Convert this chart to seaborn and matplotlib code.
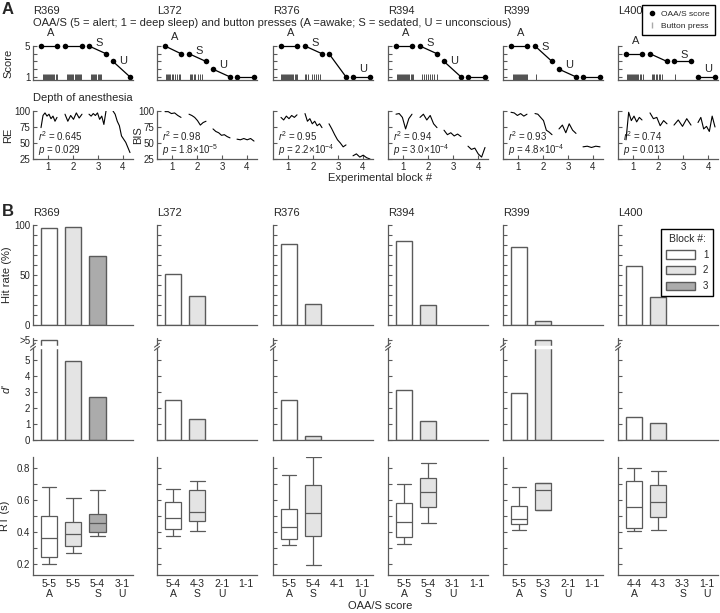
# OAA/S, button presses, depth of anesthesia and task performance per subject
import numpy as np
import pandas as pd
import seaborn as sns
import matplotlib.pyplot as plt
from matplotlib.lines import Line2D
from matplotlib.patches import Patch

# ------------------------------------------
# data
# ------------------------------------------
subjects = ['R369', 'L372', 'R376', 'R394', 'R399', 'L400']
blocks = ['1', '2', '3', '4']

# OAA/S score at start / end of each experimental block
oaas_start = {'R369': [5, 5, 5, 3], 'L372': [5, 4, 2, 1], 'R376': [5, 5, 4, 1],
              'R394': [5, 5, 3, 1], 'R399': [5, 5, 2, 1], 'L400': [4, 4, 3, 1]}
oaas_end = {'R369': [5, 5, 4, 1], 'L372': [4, 3, 1, 1], 'R376': [5, 4, 1, 1],
            'R394': [5, 4, 1, 1], 'R399': [5, 3, 1, 1], 'L400': [4, 3, 3, 1]}
states = {'R369': ['A', '', 'S', 'U'], 'L372': ['A', 'S', 'U', ''],
          'R376': ['A', 'S', '', 'U'], 'R394': ['A', 'S', 'U', ''],
          'R399': ['A', 'S', 'U', ''], 'L400': ['A', '', 'S', 'U']}
block_start = [0.72, 1.68, 2.64, 3.60]
block_end = [1.36, 2.36, 3.32, 4.28]

# button press times (in block units)
presses = {
    'R369': [0.80, 0.84, 0.88, 0.93, 0.97, 1.01, 1.05, 1.09, 1.13, 1.17, 1.21, 1.25, 1.30, 1.34,
             1.76, 1.80, 1.84, 1.89, 1.93, 1.97, 2.01, 2.06, 2.10, 2.14, 2.18, 2.23, 2.27, 2.31,
             2.72, 2.76, 2.80, 2.85, 2.89, 2.93, 2.98, 3.02, 3.08, 3.13],
    'L372': [0.76, 0.80, 0.84, 0.88, 0.93, 0.98, 1.02, 1.10, 1.18, 1.26, 1.32,
             1.73, 1.77, 1.81, 1.86, 1.90, 2.02, 2.12, 2.18],
    'R376': [0.73, 0.77, 0.81, 0.85, 0.89, 0.93, 0.97, 1.01, 1.05, 1.09, 1.13, 1.17, 1.21, 1.26,
             1.30, 1.34, 1.69, 1.73, 1.78, 1.96, 2.04, 2.12, 2.20, 2.27],
    'R394': [0.77, 0.81, 0.85, 0.89, 0.93, 0.97, 1.01, 1.05, 1.09, 1.13, 1.17, 1.21, 1.25, 1.30,
             1.35, 1.39, 1.76, 1.84, 1.92, 2.00, 2.08, 2.16, 2.24, 2.34],
    'R399': [0.79, 0.83, 0.87, 0.91, 0.95, 0.99, 1.03, 1.07, 1.11, 1.15, 1.19, 1.23, 1.27, 1.31,
             1.35, 1.71],
    'L400': [0.76, 0.80, 0.84, 0.88, 0.92, 0.96, 1.00, 1.04, 1.08, 1.12, 1.16, 1.20, 1.26, 1.32,
             1.38, 1.76, 1.80, 1.84, 1.90, 1.96, 2.02, 2.08, 2.14, 2.68],
}

# depth of anesthesia traces, one list per block
depth_label = {'R369': 'RE', 'L372': 'BIS'}
depth = {
    'R369': [[74, 93, 97, 92, 95, 88, 92, 84, 90], [95, 84, 93, 87, 97, 89, 95],
             [95, 92, 96, 93, 97, 87, 92, 79, 100], [100, 95, 84, 77, 61, 56, 51, 43, 35]],
    'L372': [[99, 99, 96, 97, 93, 90], [95, 93, 90, 85, 78, 82, 84],
             [72, 68, 66, 62, 63, 60, 58], [56, 55, 57, 55, 57, 53]],
    'R376': [[90, 86, 92, 88, 93, 90, 94], [96, 84, 88, 80, 84, 77, 80, 74],
             [80, 72, 63, 55, 50, 44, 47], [30, 33, 28, 31, 27, 25]],
    'R394': [[95, 96, 90, 72, 88, 95], [90, 95, 86, 93, 80, 74],
             [70, 63, 66, 61, 64, 60], [45, 40, 42, 33, 28, 43]],
    'R399': [[98, 97, 93, 96, 92, 95], [96, 95, 90, 85, 70, 67, 63],
             [72, 78, 66, 80, 70, 65], [44, 45, 43, 45, 44]],
    'L400': [[55, 98, 85, 92, 83, 90, 86], [97, 88, 90, 77, 85, 80],
             [78, 86, 76, 88, 78], [82, 90, 72, 76, 68, 92, 75]],
}
depth_r2 = ['0.645', '0.98', '0.95', '0.94', '0.93', '0.74']
depth_p = ['0.029', '1.8×10$^{-5}$', '2.2×10$^{-4}$', '3.0×10$^{-4}$', '4.8×10$^{-4}$', '0.013']

# panel B
hit_rate = {'R369': [97, 98, 69], 'L372': [51, 29], 'R376': [81, 21],
            'R394': [84, 20], 'R399': [78, 4], 'L400': [59, 28]}
d_prime = {'R369': [np.inf, 4.9, 2.7], 'L372': [2.5, 1.3], 'R376': [2.5, 0.25],
           'R394': [3.1, 1.2], 'R399': [2.9, np.inf], 'L400': [1.45, 1.05]}
# reaction time boxes: [low whisker, q1, median, q3, high whisker]
rt_box = {
    'R369': [[0.20, 0.24, 0.36, 0.50, 0.68], [0.27, 0.31, 0.39, 0.46, 0.61], [0.375, 0.40, 0.455, 0.51, 0.66]],
    'L372': [[0.375, 0.42, 0.49, 0.585, 0.67], [0.405, 0.47, 0.525, 0.66, 0.72]],
    'R376': [[0.32, 0.355, 0.43, 0.545, 0.76], [0.19, 0.375, 0.52, 0.695, 0.87]],
    'R394': [[0.325, 0.37, 0.46, 0.58, 0.70], [0.455, 0.555, 0.65, 0.74, 0.83]],
    'R399': [[0.41, 0.45, 0.48, 0.56, 0.68], [0.54, 0.54, 0.66, 0.71, 0.71]],
    'L400': [[0.405, 0.425, 0.555, 0.72, 0.80], [0.41, 0.495, 0.59, 0.695, 0.78]],
}

block_colors = {'1': 'white', '2': '#e4e4e4', '3': '#ababab'}
D_OVER = 6.25   # where ">5" sits on the d' axis

# ------------------------------------------
# layout (pixels)
# ------------------------------------------
W, H = 720, 613
col_left = [33, 157, 273, 388, 503, 618]
col_w = 100
GREY = '#5a5a5a'

sns.set_style('ticks')
plt.rcParams['font.family'] = ['Liberation Sans', 'DejaVu Sans']
plt.rcParams['mathtext.fontset'] = 'custom'
plt.rcParams['mathtext.rm'] = 'Liberation Sans'
plt.rcParams['mathtext.it'] = 'Liberation Sans:italic'

fig = plt.figure(figsize=(W / 100, H / 100), dpi=100)


def add_ax(left, top, width, height):
    return fig.add_axes([left / W, 1 - (top + height) / H, width / W, height / H])


def style_ax(ax):
    sns.despine(ax=ax)
    for side in ['left', 'bottom']:
        ax.spines[side].set_color(GREY)
        ax.spines[side].set_linewidth(0.9)
    ax.tick_params(which='both', direction='in', length=3, width=0.8, color=GREY,
                   labelsize=7, pad=2)
    ax.set_xlabel('')
    ax.set_ylabel('')


def fig_text(x, y, s, **kw):
    fig.text(x / W, 1 - y / H, s, va='center', **kw)


# ------------------------------------------
# panel A: OAA/S score and button presses
# ------------------------------------------
label_dy = {'A': 9.5, 'S': 5, 'U': 6}
for i, s in enumerate(subjects):
    ax = add_ax(col_left[i], 46, col_w, 34)
    df = pd.DataFrame({'x': block_start + block_end,
                       'score': oaas_start[s] + oaas_end[s],
                       'block': blocks + blocks})
    sns.lineplot(data=df, x='x', y='score', units='block', estimator=None, sort=True,
                 color='k', marker='o', markersize=4, markeredgewidth=0, lw=0.9,
                 clip_on=False, ax=ax)
    ax.plot(presses[s], [0.95] * len(presses[s]), ls='none', marker='|', ms=4.5,
            mew=0.6, color='#333333', clip_on=False)
    for b, lab in enumerate(states[s]):
        if lab:
            xm = (block_start[b] + block_end[b]) / 2
            ym = (oaas_start[s][b] + oaas_end[s][b]) / 2
            ax.annotate(lab, (xm, ym), xytext=(1.5, label_dy[lab]), textcoords='offset points',
                        ha='center', va='center', fontsize=8, annotation_clip=False)
    style_ax(ax)
    ax.set_xlim(0.4, 4.4)
    ax.set_ylim(0.6, 5.0)
    ax.set_xticks([])
    ax.set_yticks([1, 2, 3, 4, 5])
    ax.set_yticklabels(['1', '', '', '', '5'] if i == 0 else [])
    if i == 0:
        ax.set_ylabel('Score', fontsize=8)
        ax.yaxis.set_label_coords(-0.2, 0.5)
    fig_text(col_left[i], 11, s, fontsize=8)

fig_text(33, 22.5, 'OAA/S (5 = alert; 1 = deep sleep) and button presses '
         '(A =awake; S = sedated, U = unconscious)', fontsize=8)

legend_a = [Line2D([], [], marker='o', color='k', ls='none', ms=3),
            Line2D([], [], marker='|', color='#aaaaaa', ls='none', ms=5)]
fig.legend(legend_a, ['OAA/S score', 'Button press'], loc='upper right',
           bbox_to_anchor=(719 / W, 1 - 1 / H), fontsize=6, frameon=True, fancybox=False,
           edgecolor='k', handlelength=1.2, handletextpad=0.5, borderpad=0.6,
           labelspacing=0.5, framealpha=1)

# ------------------------------------------
# panel A: depth of anesthesia
# ------------------------------------------
for i, s in enumerate(subjects):
    ax = add_ax(col_left[i], 111, col_w, 48)
    rows = []
    for b, vals in enumerate(depth[s]):
        xs = np.linspace(block_start[b], block_end[b], len(vals))
        for x, v in zip(xs, vals):
            rows.append((x, v, blocks[b]))
    df = pd.DataFrame(rows, columns=['x', 'depth', 'block'])
    sns.lineplot(data=df, x='x', y='depth', units='block', estimator=None,
                 color='k', lw=0.8, ax=ax)
    style_ax(ax)
    ax.set_xlim(0.4, 4.4)
    ax.set_ylim(25, 100)
    ax.set_xticks([1, 2, 3, 4])
    ax.set_yticks([25, 50, 75, 100])
    if i > 1:
        ax.set_yticklabels([])
    if s in depth_label:
        ax.set_ylabel(depth_label[s], fontsize=8)
        ax.yaxis.set_label_coords(-0.2 if i == 0 else -0.14, 0.5)
    ax.text(0.05, 0.47, '$r$$^2$ = ' + depth_r2[i], transform=ax.transAxes, fontsize=7, va='center')
    ax.text(0.05, 0.18, '$p$ = ' + depth_p[i], transform=ax.transAxes, fontsize=7, va='center')

fig_text(33, 98, 'Depth of anesthesia', fontsize=8)
fig_text(380, 178, 'Experimental block #', fontsize=8, ha='center')

# ------------------------------------------
# panel B
# ------------------------------------------
BAR_W = 0.67
XLIM = (-0.66, 3.46)
for i, s in enumerate(subjects):
    n = len(hit_rate[s])
    # hit rate
    ax = add_ax(col_left[i], 225, col_w, 100)
    df = pd.DataFrame({'block': blocks[:n], 'hit': hit_rate[s]})
    sns.barplot(data=df, x='block', y='hit', hue='block', order=blocks, hue_order=blocks[:3],
                palette=block_colors, saturation=1, width=BAR_W, edgecolor=GREY,
                linewidth=1, legend=False, ax=ax)
    style_ax(ax)
    ax.set_xlim(*XLIM)
    ax.set_ylim(0, 100)
    ax.set_xticks([])
    ax.set_yticks([0, 50, 100])
    ax.set_yticks(np.arange(10, 100, 10), minor=True)
    if i == 0:
        ax.set_ylabel('Hit rate (%)', fontsize=8)
        ax.yaxis.set_label_coords(-0.21, 0.5)
    else:
        ax.set_yticklabels([])
    fig_text(col_left[i], 213, s, fontsize=8)

    # d'
    ax = add_ax(col_left[i], 338, col_w, 102)
    shown = [min(v, D_OVER) for v in d_prime[s]]
    df = pd.DataFrame({'block': blocks[:n], 'd': shown})
    sns.barplot(data=df, x='block', y='d', hue='block', order=blocks, hue_order=blocks[:3],
                palette=block_colors, saturation=1, width=BAR_W, edgecolor=GREY,
                linewidth=1, legend=False, ax=ax)
    style_ax(ax)
    ax.set_xlim(*XLIM)
    ax.set_ylim(0, 6.35)
    ax.set_xticks([])
    ax.set_yticks([0, 1, 2, 3, 4, 5, D_OVER])
    if i == 0:
        ax.set_yticklabels(['0', '1', '2', '3', '4', '5', '>5'])
        ax.set_ylabel("$d$'", fontsize=8)
        ax.yaxis.set_label_coords(-0.21, 0.5)
    else:
        ax.set_yticklabels([])
    # broken axis
    ax.spines['left'].set_bounds(0, 5.7)
    tr = ax.get_yaxis_transform()
    ax.plot([0, 0], [5.9, 6.35], transform=tr, color=GREY, lw=0.9, clip_on=False)
    for yb in [5.7, 5.9]:
        ax.plot([-0.025, 0.025], [yb - 0.12, yb + 0.12], transform=tr, color=GREY,
                lw=0.8, clip_on=False)
    for b, v in enumerate(d_prime[s]):
        if v > 5:
            ax.hlines(5.8, b - 0.42, b + 0.42, color='white', lw=2.5, zorder=5)

    # reaction time
    ax = add_ax(col_left[i], 457, col_w, 118)
    rows = []
    for b, box in enumerate(rt_box[s]):
        for v in box:
            rows.append((blocks[b], v))
    df = pd.DataFrame(rows, columns=['block', 'rt'])
    sns.boxplot(data=df, x='block', y='rt', hue='block', order=blocks, hue_order=blocks[:3],
                palette=block_colors, saturation=1, whis=(0, 100), width=BAR_W,
                linecolor=GREY, linewidth=0.9, fliersize=0, legend=False,
                capwidths=0.6, ax=ax)
    style_ax(ax)
    ax.set_xlim(*XLIM)
    ax.set_ylim(0.13, 0.87)
    ax.set_yticks([0.2, 0.4, 0.6, 0.8])
    ax.set_yticks([0.3, 0.5, 0.7], minor=True)
    ticks = ['%d-%d\n%s' % (a, e, st) for a, e, st in zip(oaas_start[s], oaas_end[s], states[s])]
    ax.set_xticks(range(4))
    ax.set_xticklabels(ticks, fontsize=7.5, linespacing=1.0)
    ax.tick_params(axis='x', length=0, pad=3)
    if i == 0:
        ax.set_yticklabels(['0.2', '0.4', '0.6', '0.8'])
        ax.set_ylabel('RT (s)', fontsize=8)
        ax.yaxis.set_label_coords(-0.23, 0.5)
    else:
        ax.set_yticklabels([])

legend_b = [Patch(facecolor=block_colors[b], edgecolor=GREY, label=b) for b in blocks[:3]]
fig.legend(handles=legend_b, title='Block #:', loc='upper right',
           bbox_to_anchor=(718 / W, 1 - 224 / H), fontsize=7, title_fontsize=7.5,
           frameon=True, fancybox=False, edgecolor='k', handlelength=3, handleheight=1,
           handletextpad=0.8, borderpad=0.5, labelspacing=0.6, framealpha=1)

fig_text(380, 606, 'OAA/S score', fontsize=8, ha='center')
fig_text(2, 10, 'A', fontsize=12, fontweight='bold')
fig_text(2, 211, 'B', fontsize=12, fontweight='bold')

fig.savefig('out.png', dpi=100)
